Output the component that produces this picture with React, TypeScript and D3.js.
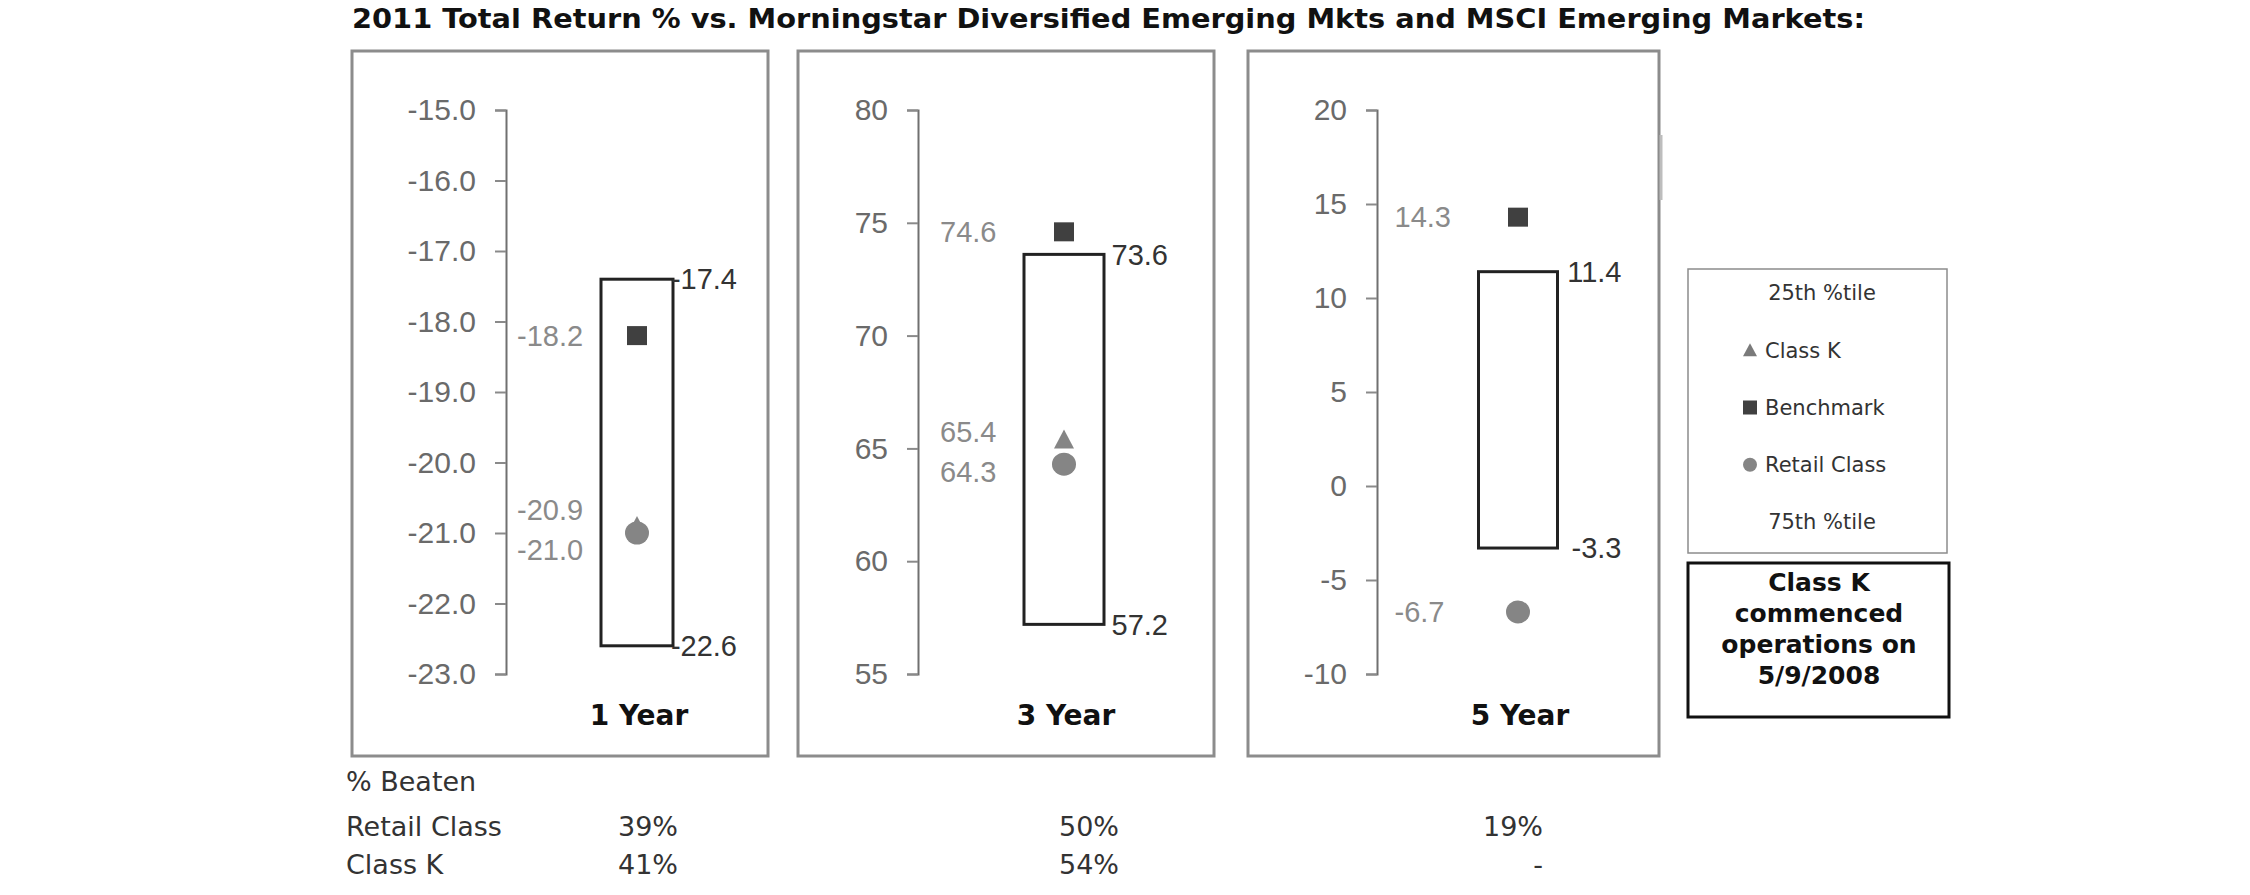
import { useRef, useEffect } from "react";
import * as d3 from "d3";

// ----- datos -----
const periods = ["1 Year", "3 Year", "5 Year"];
const yDomains: [number, number][] = [
  [-23, -15],
  [55, 80],
  [-10, 20],
];
const tickCounts = [8, 5, 6];
const tickFormats = [".1f", "d", "d"];
const pct25 = [-17.4, 73.6, 11.4];
const pct75 = [-22.6, 57.2, -3.3];
const benchmark = [-18.2, 74.6, 14.3];
const classK: (number | null)[] = [-20.9, 65.4, null];
const retail = [-21.0, 64.3, -6.7];

const beatenRows = ["Retail Class", "Class K"];
const beatenRetail = ["39%", "50%", "19%"];
const beatenClassK = ["41%", "54%", "-"];

const legendItems = ["25th %tile", "Class K", "Benchmark", "Retail Class", "75th %tile"];
const noteLines = ["Class K", "commenced", "operations on", "5/9/2008"];
const title =
  "2011 Total Return % vs. Morningstar Diversified Emerging Mkts and MSCI Emerging Markets:";

// ----- layout -----
const W = 2250;
const H = 895;
const frames = [
  { left: 352, right: 768, axisX: 506, cx: 637, boxW: 72 },
  { left: 798, right: 1214, axisX: 918, cx: 1064, boxW: 80 },
  { left: 1248, right: 1659, axisX: 1377, cx: 1518, boxW: 79 },
];
const frameTop = 51;
const frameBottom = 756;
const plotTop = 110;
const plotBottom = 674;

const locale = d3.formatLocale({
  decimal: ".",
  thousands: ",",
  grouping: [3],
  currency: ["$", ""],
  minus: "-",
});

const SANS = "'Liberation Sans', Arial, sans-serif";
const VERD = "'DejaVu Sans', Verdana, sans-serif";

const App = () => {
  const svgRef = useRef<SVGSVGElement>(null);

  useEffect(() => {
    const svg = d3.select(svgRef.current);
    svg.selectAll("*").remove();

    svg.append("rect").attr("width", W).attr("height", H).attr("fill", "#fff");

    // titulo
    svg
      .append("text")
      .attr("x", 352)
      .attr("y", 28)
      .attr("font-family", VERD)
      .attr("font-weight", "bold")
      .attr("font-size", 27)
      .attr("fill", "#111")
      .attr("textLength", 1513)
      .attr("lengthAdjust", "spacingAndGlyphs")
      .text(title);

    const fmtVal = locale.format(".1f");

    periods.forEach((period, i) => {
      const f = frames[i];
      const g = svg.append("g");
      const y = d3.scaleLinear().domain(yDomains[i]).range([plotBottom, plotTop]);
      const fmt = locale.format(tickFormats[i]);

      // marco
      g.append("rect")
        .attr("x", f.left)
        .attr("y", frameTop)
        .attr("width", f.right - f.left)
        .attr("height", frameBottom - frameTop)
        .attr("fill", "none")
        .attr("stroke", "#8c8c8c")
        .attr("stroke-width", 3);

      // eje
      const axis = g
        .append("g")
        .attr("transform", `translate(${f.axisX},0)`)
        .call(
          d3
            .axisLeft(y)
            .ticks(tickCounts[i])
            .tickFormat((d) => fmt(d as number))
            .tickSizeInner(11)
            .tickSizeOuter(11)
            .tickPadding(19)
        );
      axis.select(".domain").attr("stroke", "#707070").attr("stroke-width", 2);
      axis.selectAll(".tick line").attr("stroke", "#8a8a8a").attr("stroke-width", 2);
      axis
        .selectAll(".tick text")
        .attr("font-family", SANS)
        .attr("font-size", 30)
        .attr("fill", "#6a6a6a");

      // caja 25-75
      const bx = f.cx - f.boxW / 2;
      g.append("rect")
        .attr("x", bx)
        .attr("y", y(pct25[i]))
        .attr("width", f.boxW)
        .attr("height", y(pct75[i]) - y(pct25[i]))
        .attr("fill", "#fff")
        .attr("stroke", "#222")
        .attr("stroke-width", 3);

      [pct25[i], pct75[i]].forEach((v) => {
        g.append("text")
          .attr("x", bx + f.boxW + 64)
          .attr("y", y(v))
          .attr("dy", "0.35em")
          .attr("text-anchor", "end")
          .attr("font-family", SANS)
          .attr("font-size", 29)
          .attr("fill", "#333")
          .text(fmtVal(v));
      });

      // marcadores
      g.append("rect")
        .attr("x", f.cx - 10)
        .attr("y", y(benchmark[i]) - 9.5)
        .attr("width", 20)
        .attr("height", 19)
        .attr("fill", "#404040");

      g.append("ellipse")
        .attr("cx", f.cx)
        .attr("cy", y(retail[i]))
        .attr("rx", 12)
        .attr("ry", 11.5)
        .attr("fill", "#858585");

      const k = classK[i];
      if (k != null) {
        const ky = y(k);
        g.append("path")
          .attr("d", `M${f.cx},${ky - 10}L${f.cx + 10},${ky + 9}L${f.cx - 10},${ky + 9}Z`)
          .attr("fill", "#858585");
      }

      // etiquetas izquierda con separación
      const labels = [benchmark[i], k, retail[i]]
        .filter((v): v is number => v != null)
        .map((v) => ({ v, y: y(v) }))
        .sort((a, b) => a.y - b.y);
      for (let j = 1; j < labels.length; j++) {
        const a = labels[j - 1];
        const b = labels[j];
        if (b.y - a.y < 40) {
          const mid = (a.y + b.y) / 2;
          a.y = mid - 20;
          b.y = mid + 20;
        }
      }
      labels.forEach((l) => {
        g.append("text")
          .attr("x", bx - 84)
          .attr("y", l.y)
          .attr("dy", "0.35em")
          .attr("font-family", SANS)
          .attr("font-size", 29)
          .attr("fill", "#8a8a8a")
          .text(fmtVal(l.v));
      });

      // nombre del periodo
      g.append("text")
        .attr("x", f.cx + 2)
        .attr("y", 715)
        .attr("dy", "0.35em")
        .attr("text-anchor", "middle")
        .attr("font-family", VERD)
        .attr("font-weight", "bold")
        .attr("font-size", 28)
        .attr("fill", "#111")
        .text(period);
    });

    // artefacto gris del borde derecho
    svg
      .append("line")
      .attr("x1", 1661)
      .attr("x2", 1661)
      .attr("y1", 135)
      .attr("y2", 200)
      .attr("stroke", "#bdbdbd")
      .attr("stroke-width", 3);

    // leyenda
    const lg = svg.append("g");
    lg.append("rect")
      .attr("x", 1688)
      .attr("y", 269)
      .attr("width", 259)
      .attr("height", 284)
      .attr("fill", "#fff")
      .attr("stroke", "#8c8c8c")
      .attr("stroke-width", 1.5);
    const rowY = d3.scalePoint<string>().domain(legendItems).range([293, 522]);
    legendItems.forEach((name, j) => {
      const ly = rowY(name)!;
      const plain = j === 0 || j === legendItems.length - 1;
      if (!plain) {
        const mx = 1750;
        if (name === "Class K") {
          lg.append("path")
            .attr("d", `M${mx},${ly - 7}L${mx + 7},${ly + 6}L${mx - 7},${ly + 6}Z`)
            .attr("fill", "#7a7a7a");
        } else if (name === "Benchmark") {
          lg.append("rect")
            .attr("x", mx - 7)
            .attr("y", ly - 7)
            .attr("width", 14)
            .attr("height", 14)
            .attr("fill", "#404040");
        } else {
          lg.append("circle").attr("cx", mx).attr("cy", ly).attr("r", 7).attr("fill", "#858585");
        }
      }
      lg.append("text")
        .attr("x", plain ? 1822 : 1765)
        .attr("y", ly)
        .attr("dy", "0.35em")
        .attr("text-anchor", plain ? "middle" : "start")
        .attr("font-family", VERD)
        .attr("font-size", 21)
        .attr("fill", "#333")
        .text(name);
    });

    // nota
    const ng = svg.append("g");
    ng.append("rect")
      .attr("x", 1688)
      .attr("y", 563)
      .attr("width", 261)
      .attr("height", 154)
      .attr("fill", "#fff")
      .attr("stroke", "#111")
      .attr("stroke-width", 3);
    noteLines.forEach((line, j) => {
      ng.append("text")
        .attr("x", 1819)
        .attr("y", 582 + j * 31)
        .attr("dy", "0.35em")
        .attr("text-anchor", "middle")
        .attr("font-family", VERD)
        .attr("font-weight", "bold")
        .attr("font-size", 25)
        .attr("fill", "#111")
        .text(line);
    });

    // tabla % Beaten
    const tg = svg
      .append("g")
      .attr("font-family", VERD)
      .attr("font-size", 27)
      .attr("fill", "#333");
    tg.append("text").attr("x", 346).attr("y", 782).attr("dy", "0.35em").text("% Beaten");
    const colRight = [678, 1119, 1543];
    [beatenRetail, beatenClassK].forEach((row, r) => {
      const ry = 827 + r * 38;
      tg.append("text").attr("x", 346).attr("y", ry).attr("dy", "0.35em").text(beatenRows[r]);
      row.forEach((v, c) => {
        tg.append("text")
          .attr("x", colRight[c])
          .attr("y", ry)
          .attr("dy", "0.35em")
          .attr("text-anchor", "end")
          .text(v);
      });
    });

    return () => {
      svg.selectAll("*").remove();
    };
  }, []);

  return (
    <svg
      ref={svgRef}
      width={W}
      height={H}
      style={{ position: "absolute", left: 0, top: 0, display: "block" }}
    ></svg>
  );
};

export default App;
